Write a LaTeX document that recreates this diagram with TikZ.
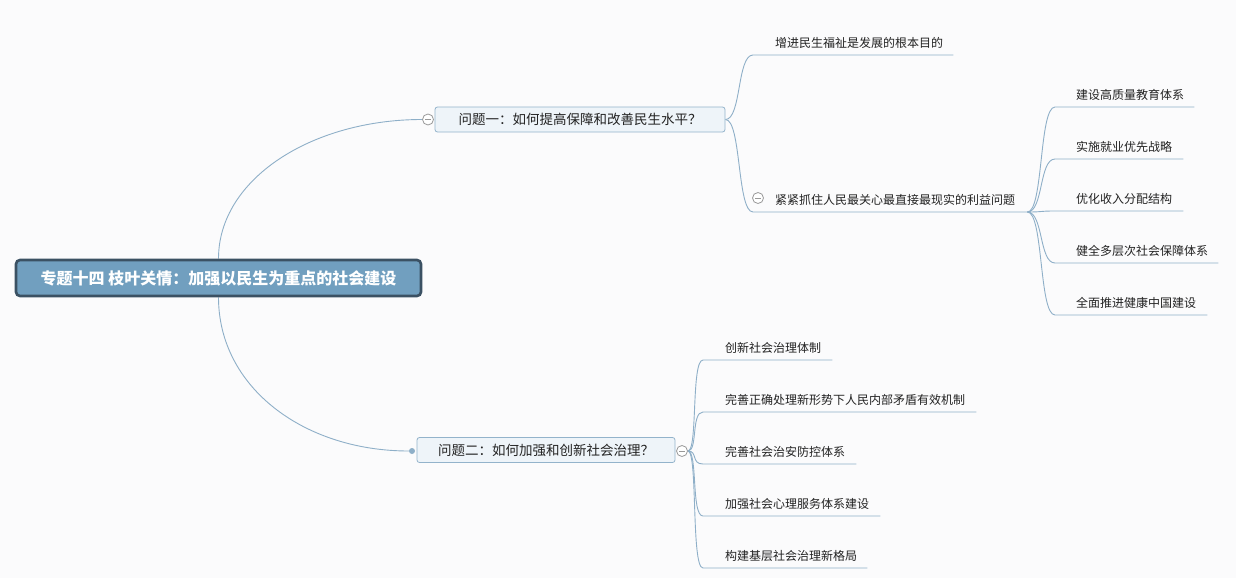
\documentclass[tikz,border=0pt]{standalone}
\usepackage{fontspec}
\usetikzlibrary{backgrounds}
\newfontfamily\cjk{Noto Sans CJK SC}
\definecolor{bg}{HTML}{FBFBFC}
\definecolor{ln}{HTML}{8EAFC8}
\definecolor{rootfill}{HTML}{719FBF}
\definecolor{rootdraw}{HTML}{3B5163}
\definecolor{qfill}{HTML}{EEF4F9}
\definecolor{qdraw}{HTML}{93B3CB}
\definecolor{txt}{HTML}{222222}
\definecolor{mk}{HTML}{999999}
\tikzset{
  conn/.style={draw=ln, line width=0.9pt},
  rootbox/.style={draw=rootdraw, fill=rootfill, line width=2.6pt, rounded corners=4pt,
    minimum width=405pt, minimum height=36pt, text=white, font=\cjk\bfseries\fontsize{16}{18}\selectfont},
  qbox/.style={draw=qdraw, fill=qfill, line width=0.8pt, rounded corners=2.5pt,
    minimum height=25pt, text=txt, font=\cjk\fontsize{13.5}{15}\selectfont},
  leaf/.style={anchor=south west, inner xsep=0pt, inner ysep=6pt, align=left,
    text=txt, font=\cjk\fontsize{12}{14}\selectfont},
  fold/.style={circle, draw=mk, fill=white, line width=0.8pt, minimum size=11pt, inner sep=0pt,
    path picture={\draw[mk, line width=0.8pt] ([xshift=-3pt]path picture bounding box.center) -- ([xshift=3pt]path picture bounding box.center);}},
  dotm/.style={circle, fill=ln, minimum size=6pt, inner sep=0pt}
}
\begin{document}
\begin{tikzpicture}[x=1pt,y=-1pt]
\useasboundingbox (0,0) rectangle (1236,578);

\node[rootbox] (root) at (218.5,278) {专题十四 枝叶关情：加强以民生为重点的社会建设};
\node[qbox, minimum width=290pt] (q1) at (580,119.5) {问题一：如何提高保障和改善民生水平？};
\node[qbox, minimum width=258pt] (q2) at (546,450) {问题二：如何加强和创新社会治理？};

\node[leaf, text width=200pt] (a1) at (753,55) {\hspace*{22pt}增进民生福祉是发展的根本目的};
\node[leaf, text width=274pt] (a2) at (753,212) {\hspace*{22pt}紧紧抓住人民最关心最直接最现实的利益问题};

\node[leaf, text width=139pt] (s1) at (1055,107) {\hspace*{21pt}建设高质量教育体系};
\node[leaf, text width=128pt] (s2) at (1055,159) {\hspace*{21pt}实施就业优先战略};
\node[leaf, text width=128pt] (s3) at (1055,211) {\hspace*{21pt}优化收入分配结构};
\node[leaf, text width=163pt] (s4) at (1055,263) {\hspace*{21pt}健全多层次社会保障体系};
\node[leaf, text width=152pt] (s5) at (1055,315) {\hspace*{21pt}全面推进健康中国建设};

\node[leaf, text width=129pt] (c1) at (703,360) {\hspace*{22pt}创新社会治理体制};
\node[leaf, text width=273pt] (c2) at (703,412) {\hspace*{22pt}完善正确处理新形势下人民内部矛盾有效机制};
\node[leaf, text width=153pt] (c3) at (703,464) {\hspace*{22pt}完善社会治安防控体系};
\node[leaf, text width=177pt] (c4) at (703,516) {\hspace*{22pt}加强社会心理服务体系建设};
\node[leaf, text width=164pt] (c5) at (703,568) {\hspace*{22pt}构建基层社会治理新格局};

\node[dotm] (d2) at (412,451) {};
\node[fold] (f1) at (428,119.5) {};
\node[fold] (f2) at (758,198) {};
\node[fold] (f3) at (682,451) {};

\begin{pgfonlayer}{background}
\fill[bg] (0,0) rectangle (1236,578);
% root connectors
\draw[conn] (root.north) .. controls +(0,-80) and +(-110,0) .. (f1.west);
\draw[conn] (root.south) .. controls +(0,90) and +(-105,0) .. (d2.west);
% branch 1
\foreach \t in {a1,a2}
  \draw[conn] (q1.east) .. controls +(16,0) and +(-16,0) .. (\t.south west) -- (\t.south east);
% sub branch
\foreach \t in {s1,s2,s3,s4,s5}
  \draw[conn] (a2.south east) .. controls +(16,0) and +(-16,0) .. (\t.south west) -- (\t.south east);
% branch 2
\foreach \t in {c1,c2,c3,c4,c5}
  \draw[conn] (f3.east) .. controls +(10,0) and +(-12,0) .. (\t.south west) -- (\t.south east);
\end{pgfonlayer}
\end{tikzpicture}
\end{document}
